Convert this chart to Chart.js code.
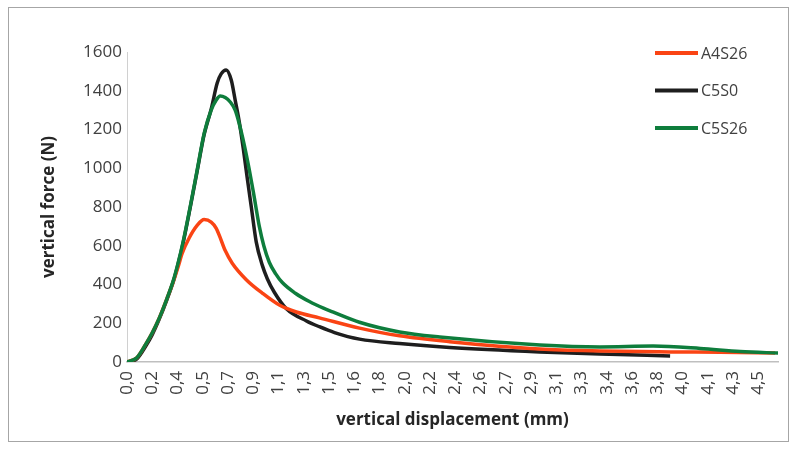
<!DOCTYPE html>
<html>
<head>
<meta charset="utf-8">
<title>vertical force vs vertical displacement</title>
<script src="https://cdn.jsdelivr.net/npm/chart.js@4.4.1/dist/chart.umd.min.js"></script>
<style>
  html, body { margin: 0; padding: 0; background: #fff; }
  #wrap { width: 790px; height: 450px; }
</style>
</head>
<body>
<div id="wrap"><canvas id="chart" width="790" height="450"></canvas></div>
<script>
// x axis labels (mm), one every tickStep
const tickLabels = ['0,0', '0,2', '0,4', '0,5', '0,7', '0,9', '1,1', '1,3', '1,5', '1,6', '1,8', '2,0', '2,2',
  '2,4', '2,6', '2,7', '2,9', '3,1', '3,3', '3,4', '3,6', '3,8', '4,0', '4,1', '4,3', '4,5'];
const tickStep = 0.18;
const yTicks = [0, 200, 400, 600, 800, 1000, 1200, 1400, 1600];

const seriesNames = ['A4S26', 'C5S0', 'C5S26'];

// A4S26
const a4s26X = [0, 0.07, 0.136, 0.179, 0.229, 0.286, 0.33, 0.364, 0.393, 0.443, 0.5, 0.55, 0.6, 0.636, 0.66,
  0.7, 0.75, 0.85, 0.964, 1.086, 1.207, 1.371, 1.657, 1.943, 2.3, 2.943, 3.371, 3.871, 4.229, 4.62];
const a4s26Y = [0, 22, 95, 150, 225, 330, 415, 490, 560, 640, 705, 735, 722, 690, 650,
  575, 510, 425, 356, 294, 258, 228, 175, 135, 105, 67, 57, 52, 50, 46];

// C5S0
const c5s0X = [0, 0.07, 0.136, 0.179, 0.229, 0.286, 0.33, 0.364, 0.4, 0.45, 0.5, 0.55, 0.6, 0.643, 0.671,
  0.707, 0.743, 0.771, 0.8, 0.829, 0.857, 0.886, 0.921, 0.964, 1.0, 1.05, 1.136, 1.279, 1.371, 1.479,
  1.657, 1.943, 2.3, 2.943, 3.371, 3.871];
const c5s0Y = [0, 16, 85, 140, 220, 325, 415, 505, 615, 795, 985, 1175, 1305, 1440, 1487,
  1507, 1455, 1352, 1240, 1100, 950, 800, 620, 500, 430, 360, 275, 212, 182, 152,
  118, 95, 75, 52, 41, 31];

// C5S26
const c5s26X = [0, 0.07, 0.136, 0.179, 0.229, 0.286, 0.33, 0.364, 0.4, 0.45, 0.5, 0.55, 0.6, 0.636, 0.664,
  0.7, 0.736, 0.771, 0.8, 0.836, 0.871, 0.9, 0.921, 0.943, 0.975, 1.014, 1.06, 1.107, 1.2, 1.3,
  1.4, 1.479, 1.657, 1.943, 2.229, 2.943, 3.371, 3.75, 4.086, 4.371, 4.65];
const c5s26Y = [0, 22, 95, 150, 225, 330, 420, 510, 620, 800, 990, 1180, 1300, 1352, 1373,
  1365, 1342, 1300, 1230, 1120, 995, 880, 790, 700, 600, 515, 455, 410, 355, 312,
  278, 255, 205, 155, 129, 88, 78, 82, 70, 54, 46];

const colors = ['#fa4414', '#1e1e1e', '#0e7d3c'];

function toPoints(xs, ys) {
  return xs.map((x, i) => ({ x: x, y: ys[i] }));
}

const FONT = '"Open Sans", sans-serif';

// white background with a thin grey frame
const framePlugin = {
  id: 'frame',
  beforeDraw(chart) {
    const ctx = chart.ctx;
    ctx.save();
    ctx.fillStyle = '#fff';
    ctx.fillRect(0, 0, chart.width, chart.height);
    ctx.strokeStyle = '#a6a6a6';
    ctx.lineWidth = 1;
    ctx.strokeRect(8.5, 7.5, 780, 434);
    ctx.restore();
  }
};

// legend drawn over the upper right of the plot
const sideLegend = {
  id: 'sideLegend',
  afterDraw(chart) {
    const ctx = chart.ctx;
    ctx.save();
    ctx.font = '16px ' + FONT;
    ctx.textBaseline = 'middle';
    chart.data.datasets.forEach((ds, i) => {
      const y = 53 + i * 37.5;
      ctx.strokeStyle = ds.borderColor;
      ctx.lineWidth = 4;
      ctx.beginPath();
      ctx.moveTo(655, y);
      ctx.lineTo(698, y);
      ctx.stroke();
      ctx.fillStyle = '#404040';
      ctx.fillText(ds.label, 701, y + 1);
    });
    ctx.restore();
  }
};

new Chart(document.getElementById('chart'), {
  type: 'line',
  data: {
    datasets: [
      { label: seriesNames[0], data: toPoints(a4s26X, a4s26Y), borderColor: colors[0], order: 1 },
      { label: seriesNames[1], data: toPoints(c5s0X, c5s0Y), borderColor: colors[1], order: 2 },
      { label: seriesNames[2], data: toPoints(c5s26X, c5s26Y), borderColor: colors[2], order: 0 }
    ].map(ds => Object.assign(ds, {
      borderWidth: 3.5,
      pointRadius: 0,
      fill: false,
      cubicInterpolationMode: 'monotone'
    }))
  },
  options: {
    responsive: false,
    animation: false,
    devicePixelRatio: 1,
    layout: { padding: { top: 52, right: 12, left: 0, bottom: 0 } },
    plugins: {
      legend: { display: false },
      tooltip: { enabled: false }
    },
    scales: {
      x: {
        type: 'linear',
        min: 0,
        max: 4.64,
        afterFit(scale) { scale.height = 88; },
        afterBuildTicks(scale) {
          scale.ticks = tickLabels.map((_, i) => ({ value: i * tickStep }));
        },
        grid: { display: false, drawTicks: false },
        border: { display: true, color: '#bfbfbf', width: 1.5 },
        ticks: {
          autoSkip: false,
          maxRotation: 90,
          minRotation: 90,
          padding: 9,
          color: '#404040',
          font: { family: FONT, size: 17 },
          callback: (value, index) => tickLabels[index]
        },
        title: {
          display: true,
          text: 'vertical displacement (mm)',
          color: '#262626',
          font: { family: FONT, size: 17, weight: 'bold' },
          padding: { top: 0, bottom: 20 }
        }
      },
      y: {
        min: 0,
        max: 1600,
        afterFit(scale) { scale.width = 127; },
        afterBuildTicks(scale) {
          scale.ticks = yTicks.map(v => ({ value: v }));
        },
        grid: { display: false, drawTicks: false },
        border: { display: true, color: '#d0d0d0', width: 1 },
        ticks: {
          padding: 5,
          color: '#404040',
          font: { family: FONT, size: 17 },
          callback: value => String(value)
        },
        title: {
          display: true,
          text: 'vertical force (N)',
          color: '#262626',
          font: { family: FONT, size: 17, weight: 'bold' },
          padding: { top: 39, bottom: 0 }
        }
      }
    }
  },
  plugins: [framePlugin, sideLegend]
});
</script>
</body>
</html>
